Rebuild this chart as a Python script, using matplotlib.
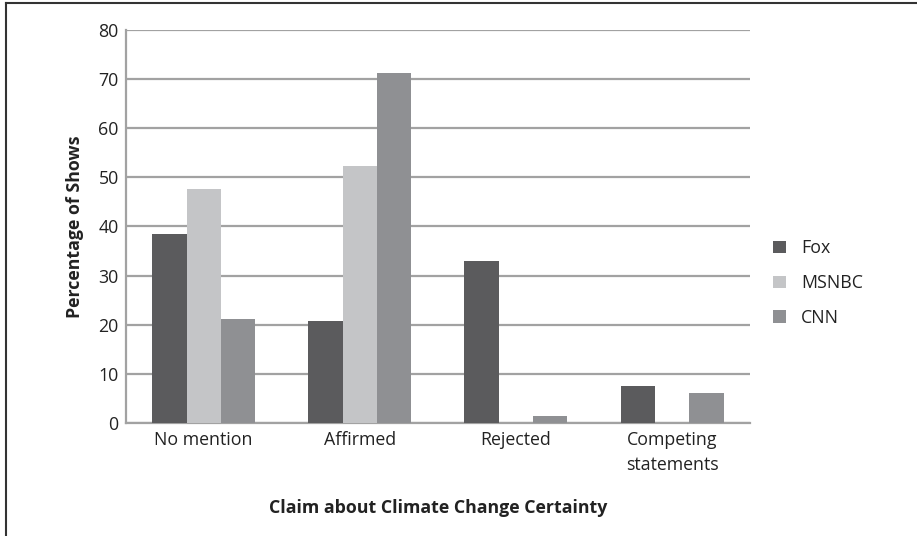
import numpy as np
import matplotlib
matplotlib.use('Agg')
import matplotlib.pyplot as plt
from matplotlib.lines import Line2D

plt.rcParams['font.family'] = ['Open Sans', 'DejaVu Sans']

# Share of shows by claim about climate change certainty
categories = ['No mention', 'Affirmed', 'Rejected', 'Competing\nstatements']
networks = ['Fox', 'MSNBC', 'CNN']
fox = [38.4, 20.8, 33.0, 7.6]
msnbc = [47.6, 52.4, 0.0, 0.0]
cnn = [21.1, 71.2, 1.4, 6.0]
yticks = [0, 10, 20, 30, 40, 50, 60, 70, 80]

colors = {'Fox': '#5b5b5d', 'MSNBC': '#c4c5c7', 'CNN': '#8f9093'}
grid_color = '#a2a2a2'
text_color = '#222222'
fs = 12.8

fig = plt.figure(figsize=(9.17, 5.36), dpi=100)
ax = fig.add_axes([0.137, 0.211, 0.681, 0.733])

x = np.arange(len(categories))
w = 0.22
for i, (name, vals) in enumerate(zip(networks, [fox, msnbc, cnn])):
    ax.bar(x + (i - 1) * w, vals, width=w, color=colors[name], label=name,
           zorder=3)

ax.set_xlim(-0.5, len(categories) - 0.5)
ax.set_ylim(0, 80)
ax.set_yticks(yticks)
ax.set_xticks(x)
ax.set_xticklabels(categories, fontsize=fs, color=text_color, linespacing=1.45)
ax.tick_params(axis='y', length=0, labelsize=fs, labelcolor=text_color, pad=5)
ax.tick_params(axis='x', length=0, pad=6)
ax.yaxis.grid(True, color=grid_color, linewidth=1.6, zorder=0)
ax.set_axisbelow(True)
for side in ['top', 'right']:
    ax.spines[side].set_visible(False)
for side in ['left', 'bottom']:
    ax.spines[side].set_color(grid_color)
    ax.spines[side].set_linewidth(1.6)

ax.set_ylabel('Percentage of Shows', fontsize=fs, fontweight='bold',
              color=text_color, labelpad=10)
ax.set_xlabel('Claim about Climate Change Certainty', fontsize=fs,
              fontweight='bold', color=text_color, labelpad=18)

ax.legend(loc='center left', bbox_to_anchor=(0.826, 0.472),
          bbox_transform=fig.transFigure, frameon=False, fontsize=fs,
          handlelength=0.7, handleheight=0.7, handletextpad=0.85,
          labelspacing=0.95, labelcolor=text_color)

# frame edges along the top and left of the figure
fig.add_artist(Line2D([0.006, 0.006], [0, 0.994], color='#333333', lw=1.5,
                      transform=fig.transFigure))
fig.add_artist(Line2D([0.006, 1], [0.994, 0.994], color='#333333', lw=1.5,
                      transform=fig.transFigure))

fig.savefig('out.png', dpi=100, facecolor='white')
